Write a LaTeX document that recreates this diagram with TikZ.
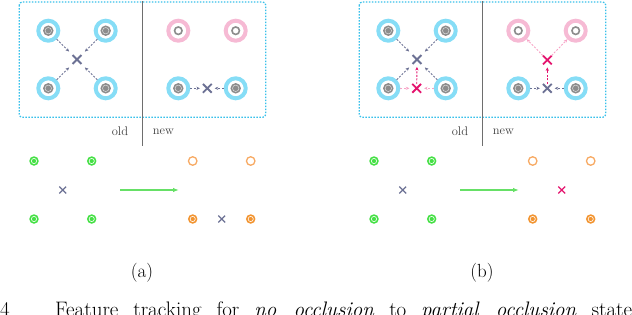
\documentclass[tikz,border=0pt]{standalone}
\usetikzlibrary{shapes.misc,arrows.meta}
\definecolor{cyanring}{HTML}{86DDF6}
\definecolor{boxcyan}{HTML}{38C0EA}
\definecolor{pinkring}{HTML}{F6BAD4}
\definecolor{slate}{HTML}{6C7194}
\definecolor{magen}{HTML}{E4146E}
\definecolor{pinkarr}{HTML}{F7A3C6}
\definecolor{grayc}{HTML}{8C8C8C}
\definecolor{gr}{HTML}{44E044}
\definecolor{garrow}{HTML}{66E066}
\definecolor{orfill}{HTML}{F29430}
\definecolor{orline}{HTML}{F7AA64}
\definecolor{divc}{HTML}{6E6E6E}
\tikzset{
  cring/.style={circle, draw=cyanring, line width=4pt, minimum size=20pt, inner sep=0pt},
  pring/.style={circle, draw=pinkring, line width=4pt, minimum size=20pt, inner sep=0pt},
  gcore/.style={circle, fill=grayc, minimum size=10.5pt, inner sep=0pt,
    path picture={\draw[white!70!grayc, line width=0.5pt] (path picture bounding box.center) circle (3.2pt);}},
  ocore/.style={circle, draw=grayc, line width=1.6pt, minimum size=7.5pt, inner sep=0pt},
  xmark/.style={cross out, draw=slate, line width=1.8pt, minimum size=7pt, inner sep=0pt},
  rxmark/.style={cross out, draw=magen, line width=1.8pt, minimum size=7pt, inner sep=0pt},
  arr/.style={draw=slate, dash pattern=on 2pt off 1.5pt, line width=0.9pt, -{Stealth[length=3.5pt,width=3.2pt]}},
  parr/.style={arr, draw=pinkarr},
  marr/.style={arr, draw=magen},
  frame/.style={draw=boxcyan, dash pattern=on 1.5pt off 1.5pt, line width=1.3pt, rounded corners=3pt},
  divider/.style={draw=divc, line width=0.8pt},
  lbl/.style={text=black!75, font=\fontsize{12.5}{14}\selectfont, inner sep=0pt},
  gdot/.style={circle, fill=gr, minimum size=9.5pt, inner sep=0pt,
    path picture={\draw[white, line width=0.6pt] (path picture bounding box.center) circle (2.6pt);}},
  ofill/.style={circle, fill=orfill, minimum size=9.5pt, inner sep=0pt,
    path picture={\draw[white, line width=0.6pt] (path picture bounding box.center) circle (2.6pt);}},
  odot/.style={circle, draw=orline, line width=1.3pt, minimum size=8.5pt, inner sep=0pt},
  sx/.style={cross out, draw=slate, line width=1.3pt, minimum size=5.5pt, inner sep=0pt},
  srx/.style={cross out, draw=magen, line width=1.3pt, minimum size=5.5pt, inner sep=0pt},
  garr/.style={draw=garrow, line width=1.2pt, -{Latex[length=6pt,width=4.5pt]}},
  big/.style={font=\fontsize{19}{22}\selectfont, inner sep=0pt},
  capw/.style={font=\fontsize{21}{24}\selectfont, inner sep=0pt, anchor=base west}
}
\begin{document}
\begin{tikzpicture}[x=1pt,y=-1pt]
\useasboundingbox (0,0) rectangle (632,314);
\clip (0,0) rectangle (632,314);

% ================= panel (a) =================
\draw[frame] (19.3,2) rectangle (265.7,117.3);
\coordinate (adt) at (142.7,1);
\coordinate (adb) at (142.7,145.7);
\draw[divider] (adt) -- (adb);
\node[lbl] (aold) at (120,131.7) {old};
\node[lbl] (anew) at (163.3,131.7) {new};

\node[cring] (aA) at (48.3,30.7) {};
\node[cring] (aB) at (105.7,30.7) {};
\node[cring] (aC) at (48.3,88.3) {};
\node[cring] (aD) at (105.7,88.3) {};
\foreach \n in {aA,aB,aC,aD} \node[gcore] at (\n) {};
\node[pring] (aE) at (178.3,30.7) {};
\node[pring] (aF) at (235.7,30.7) {};
\node[ocore] at (aE) {};
\node[ocore] at (aF) {};
\node[cring] (aG) at (178.3,88.3) {};
\node[cring] (aH) at (235.7,88.3) {};
\node[gcore] at (aG) {};
\node[gcore] at (aH) {};
\node[xmark] (ax1) at (77,59.5) {};
\node[xmark] (ax2) at (207.3,88.3) {};
\foreach \n in {aA,aB,aC,aD} \draw[arr, shorten >=5pt] (\n) -- (ax1);
\draw[arr, shorten >=3pt] (aG) -- (ax2);
\draw[arr, shorten >=3pt] (aH) -- (ax2);

% bottom (a)
\node[gdot] (ag1) at (34,161) {};
\node[gdot] (ag2) at (91.7,161) {};
\node[gdot] (ag3) at (34,219) {};
\node[gdot] (ag4) at (91.7,219) {};
\node[sx] (abx1) at (62.7,190) {};
\coordinate (aas) at (120,190);
\coordinate (aae) at (179,190);
\draw[garr] (aas) -- (aae);
\node[odot] (ao1) at (192.7,161) {};
\node[odot] (ao2) at (250.7,161) {};
\node[ofill] (ao3) at (192.7,219) {};
\node[ofill] (ao4) at (250.7,219) {};
\node[sx] (abx2) at (221.7,219) {};
\node[big] (acap) at (142,272.7) {(a)};

% ================= panel (b) =================
\draw[frame] (359.3,2) rectangle (605.7,117.3);
\coordinate (bdt) at (482.7,1);
\coordinate (bdb) at (482.7,145.7);
\draw[divider] (bdt) -- (bdb);
\node[lbl] (bold) at (460,131.7) {old};
\node[lbl] (bnew) at (503.3,131.7) {new};

\node[cring] (bA) at (388.3,30.7) {};
\node[cring] (bB) at (445.7,30.7) {};
\node[cring] (bC) at (388.3,88.3) {};
\node[cring] (bD) at (445.7,88.3) {};
\foreach \n in {bA,bB,bC,bD} \node[gcore] at (\n) {};
\node[pring] (bE) at (518.3,30.7) {};
\node[pring] (bF) at (575.7,30.7) {};
\node[ocore] at (bE) {};
\node[ocore] at (bF) {};
\node[cring] (bG) at (518.3,88.3) {};
\node[cring] (bH) at (575.7,88.3) {};
\node[gcore] at (bG) {};
\node[gcore] at (bH) {};
\node[xmark] (bx1) at (417,59.5) {};
\node[rxmark] (bx2) at (416.7,88.3) {};
\node[xmark] (bx3) at (547.3,88.3) {};
\node[rxmark] (bx4) at (547.3,60) {};
\foreach \n in {bA,bB,bC,bD} \draw[arr, shorten >=5pt] (\n) -- (bx1);
\draw[parr, shorten >=3pt] (bC) -- (bx2);
\draw[parr, shorten >=3pt] (bD) -- (bx2);
\draw[marr, shorten >=3pt] (bx2) -- (bx1);
\draw[arr, shorten >=3pt] (bG) -- (bx3);
\draw[arr, shorten >=3pt] (bH) -- (bx3);
\draw[marr, shorten >=3pt] (bx3) -- (bx4);
\draw[parr] (bx4) -- (bE);
\draw[parr] (bx4) -- (bF);

% bottom (b)
\node[gdot] (bg1) at (374,161) {};
\node[gdot] (bg2) at (431.7,161) {};
\node[gdot] (bg3) at (374,219) {};
\node[gdot] (bg4) at (431.7,219) {};
\node[sx] (bbx1) at (402.7,190) {};
\coordinate (bas) at (460,190);
\coordinate (bae) at (519,190);
\draw[garr] (bas) -- (bae);
\node[odot] (bo1) at (532.7,161) {};
\node[odot] (bo2) at (590.7,161) {};
\node[ofill] (bo3) at (532.7,219) {};
\node[ofill] (bo4) at (590.7,219) {};
\node[srx] (bbx2) at (561.7,190) {};
\node[big] (bcap) at (482,272.7) {(b)};

% ================= caption (cut off at the lower edge) =================
\node[capw] (c0) at (0,316.3) {4};
\node[capw] (c1) at (55,316.3)
  {\makebox[577pt][s]{Feature tracking for \emph{no occlusion} to \emph{partial occlusion} state}};
\end{tikzpicture}
\end{document}
